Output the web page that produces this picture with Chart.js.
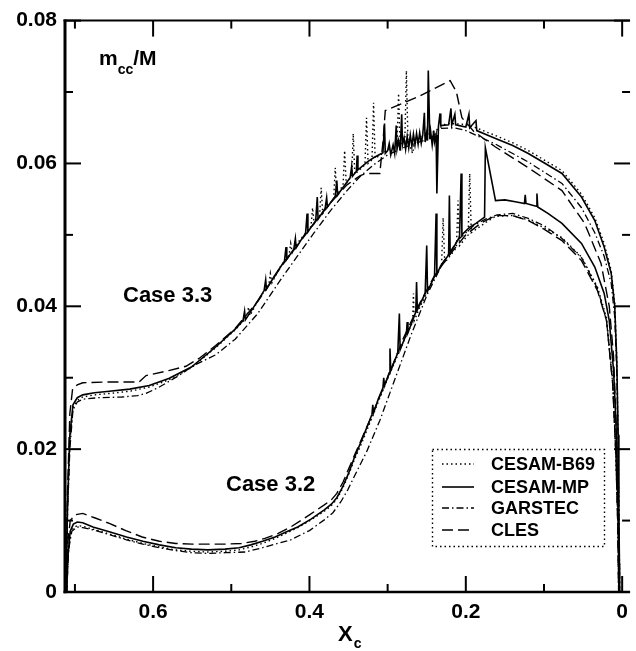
<!DOCTYPE html>
<html>
<head>
<meta charset="UTF-8">
<title>m_cc/M vs X_c</title>
<script src="https://cdn.jsdelivr.net/npm/chart.js"></script>
<style>
  body { margin: 0; background: #fff; }
  canvas { display: block; }
</style>
</head>
<body>
<canvas id="c" width="636" height="651"></canvas>
<script>
// tick values
const xMajor = [0.6, 0.4, 0.2, 0];
const xMinor = [0.7, 0.5, 0.3, 0.1];
const yMajor = [0, 0.02, 0.04, 0.06, 0.08];
const yMinor = [0.01, 0.03, 0.05, 0.07];

const models = ['CESAM-B69', 'CESAM-MP', 'GARSTEC', 'CLES'];

// Case 3.3  [X_c, m_cc/M]
const b69_33 = [[.7115,0],[.7095,.011],[.7065,.021],[.7025,.0258],[.697,.0268],[.690,.0273],[.675,.0276],[.656,.0278],[.630,.0281],[.605,.0287],[.580,.0297],[.551,.0314],[.520,.0342],[.495,.0367],[.480,.0385],[.478,.0399],[.476,.0387],[.466,.0408],[.452,.0430],[.450,.0446],[.448,.0433],[.437,.0456],[.426,.0472],[.424,.0488],[.422,.0475],[.415,.0489],[.398,.0512],[.396,.0538],[.394,.0516],[.387,.0527],[.385,.0566],[.383,.0530],[.369,.0551],[.367,.0594],[.365,.0555],[.357,.0570],[.355,.0618],[.353,.0572],[.346,.0582],[.344,.0642],[.342,.0585],[.329,.0598],[.327,.0664],[.325,.0600],[.320,.0605],[.318,.0685],[.316,.0607],[.300,.0619],[.288,.0626],[.286,.0698],[.284,.0627],[.278,.0631],[.276,.0730],[.274,.0632],[.268,.0614],[.265,.0635],[.250,.0640],[.240,.0645],[.225,.0656],[.205,.0655],[.187,.0650],[.162,.0639],[.140,.0629],[.120,.0618],[.100,.0605],[.077,.0590],[.052,.0557],[.035,.0524],[.023,.0488],[.014,.0450],[.0095,.0405],[.0068,.0325],[.0052,.0225],[.0042,.0125],[.0035,.0045],[.0032,0]];
const mp_33 = [[.7115,0],[.7095,.012],[.7065,.022],[.7025,.0262],[.697,.0272],[.690,.0276],[.675,.0279],[.656,.0281],[.630,.0284],[.605,.0289],[.580,.0299],[.551,.0315],[.520,.0343],[.495,.0368],[.485,.0380],[.483,.0393],[.482,.0381],[.466,.0408],[.458,.0422],[.456,.0437],[.455,.0424],[.445,.0442],[.437,.0455],[.432,.0463],[.430,.0483],[.429,.0466],[.420,.0480],[.418,.0495],[.417,.0482],[.410,.0494],[.405,.0502],[.403,.0530],[.402,.0504],[.392,.0520],[.390,.0553],[.389,.0522],[.380,.0537],[.378,.0552],[.377,.0539],[.367,.0554],[.365,.0576],[.364,.0556],[.352,.0574],[.348,.0580],[.346,.0596],[.345,.0582],[.340,.0589],[.339,.0611],[.338,.0591],[.325,.0603],[.318,.0608],[.306,.0615],[.304,.0656],[.303,.0614],[.300,.0618],[.298,.0628],[.296,.0612],[.293,.0626],[.291,.0614],[.289,.0653],[.288,.0620],[.286,.0632],[.284,.0618],[.282,.0669],[.281,.0626],[.279,.0636],[.277,.0620],[.275,.0638],[.273,.0622],[.271,.0640],[.269,.0624],[.267,.0641],[.265,.0626],[.263,.0642],[.261,.0627],[.259,.0643],[.257,.0628],[.255,.0641],[.253,.0671],[.252,.0630],[.250,.0644],[.249,.0632],[.248,.0730],[.246,.0634],[.245,.0645],[.243,.0626],[.241,.0646],[.240,.0630],[.238,.0640],[.237,.0558],[.235,.0652],[.233,.0670],[.232,.0653],[.222,.0654],[.219,.0677],[.218,.0654],[.214,.0669],[.213,.0654],[.200,.0651],[.196,.0669],[.195,.0650],[.187,.0660],[.186,.0646],[.175,.0641],[.162,.0635],[.140,.0625],[.120,.0614],[.100,.0601],[.077,.0586],[.052,.0553],[.035,.0520],[.023,.0483],[.014,.0446],[.0095,.0400],[.0068,.0320],[.0052,.0220],[.0042,.0120],[.0035,.0040],[.0032,0]];
const gar_33 = [[.7115,0],[.7095,.011],[.7065,.020],[.7025,.0255],[.697,.0266],[.690,.0270],[.670,.0272],[.640,.0273],[.620,.0275],[.609,.0278],[.592,.0287],[.567,.0303],[.550,.0316],[.520,.0332],[.495,.0354],[.466,.0390],[.437,.0437],[.415,.0471],[.394,.0503],[.373,.0534],[.352,.0562],[.335,.0582],[.318,.0598],[.300,.0612],[.280,.0622],[.260,.0630],[.245,.0635],[.232,.0649],[.215,.0650],[.200,.0646],[.162,.0627],[.120,.0602],[.077,.0572],[.052,.0538],[.035,.0503],[.023,.0470],[.014,.0432],[.0095,.0385],[.0068,.0305],[.0052,.0210],[.0042,.0110],[.0035,.0035],[.0032,0]];
const cles33 = [[.7115,0],[.7095,.014],[.7065,.025],[.7030,.0284],[.697,.0290],[.690,.0293],[.660,.0294],[.618,.0294],[.609,.0303],[.580,.0310],[.558,.0316],[.540,.0328],[.520,.0345],[.495,.0369],[.466,.0407],[.437,.0454],[.415,.0486],[.394,.0516],[.373,.0545],[.352,.0570],[.335,.0583],[.327,.0586],[.310,.0586],[.306,.0630],[.303,.0674],[.260,.0694],[.220,.0716],[.212,.0700],[.205,.0664],[.190,.0645],[.162,.0623],[.120,.0594],[.077,.0562],[.048,.0516],[.027,.0460],[.0165,.0400],[.0110,.0330],[.0075,.0230],[.0055,.0120],[.0042,.0040],[.0035,0]];

// Case 3.2
const b69_32 = [[.7105,0],[.709,.0045],[.706,.0080],[.702,.0090],[.697,.0093],[.690,.0092],[.677,.0088],[.655,.0081],[.634,.0074],[.613,.0068],[.592,.0063],[.571,.0059],[.551,.0057],[.530,.0056],[.508,.0057],[.490,.0059],[.475,.0063],[.460,.0068],[.444,.0075],[.430,.0082],[.415,.0090],[.398,.0101],[.381,.0113],[.372,.0121],[.365,.0130],[.358,.0144],[.350,.0164],[.343,.0184],[.333,.0209],[.323,.0236],[.312,.0266],[.301,.0296],[.290,.0324],[.280,.0350],[.268,.0378],[.267,.0418],[.266,.0380],[.259,.0398],[.242,.0437],[.231,.0458],[.229,.0524],[.227,.0461],[.212,.0482],[.210,.0548],[.208,.0485],[.197,.0500],[.195,.0586],[.193,.0503],[.175,.0517],[.162,.0526],[.140,.0527],[.120,.0521],[.100,.0510],[.077,.0496],[.052,.0469],[.0316,.0427],[.020,.0384],[.012,.0295],[.008,.0195],[.0055,.0095],[.0045,0]];
const mp_32 = [[.7105,0],[.709,.005],[.706,.0085],[.702,.0095],[.697,.0098],[.690,.0097],[.677,.0091],[.655,.0084],[.634,.0077],[.613,.0071],[.592,.0066],[.571,.0062],[.551,.0060],[.530,.0059],[.508,.0060],[.490,.0062],[.475,.0066],[.460,.0071],[.444,.0077],[.430,.0084],[.415,.0091],[.398,.0102],[.381,.0115],[.372,.0123],[.365,.0132],[.358,.0146],[.350,.0166],[.343,.0187],[.333,.0213],[.323,.0240],[.320,.0249],[.319,.0262],[.318,.0251],[.312,.0270],[.306,.0286],[.305,.0300],[.304,.0289],[.301,.0298],[.298,.0307],[.297,.0341],[.296,.0310],[.287,.0335],[.285,.0390],[.284,.0339],[.276,.0361],[.275,.0378],[.274,.0363],[.264,.0392],[.263,.0434],[.262,.0395],[.252,.0418],[.250,.0485],[.249,.0421],[.240,.0442],[.238,.0530],[.237,.0445],[.232,.0457],[.222,.0472],[.221,.0555],[.220,.0474],[.208,.0497],[.206,.0586],[.205,.0500],[.195,.0511],[.187,.0516],[.176,.0525],[.175,.0622],[.162,.0548],[.150,.0549],[.135,.0546],[.125,.0544],[.124,.0556],[.123,.0544],[.110,.0540],[.109,.0558],[.108,.0539],[.095,.0530],[.077,.0516],[.052,.0488],[.035,.0455],[.023,.0418],[.0165,.0380],[.011,.031],[.008,.024],[.006,.016],[.0048,.008],[.0042,0]];
const gar_32 = [[.7105,0],[.708,.006],[.704,.0085],[.697,.0091],[.690,.0090],[.677,.0087],[.655,.0080],[.634,.0073],[.613,.0067],[.592,.0062],[.571,.0058],[.551,.0055],[.529,.0054],[.508,.0055],[.482,.0056],[.460,.0062],[.444,.0067],[.424,.0073],[.400,.0086],[.381,.0101],[.370,.0111],[.360,.0126],[.351,.0143],[.343,.0161],[.327,.0196],[.310,.0240],[.290,.0300],[.270,.0360],[.250,.0415],[.230,.0460],[.210,.0493],[.190,.0513],[.175,.0522],[.160,.0528],[.140,.0530],[.120,.0523],[.100,.0513],[.077,.0495],[.052,.0468],[.0316,.0425],[.020,.0380],[.012,.0290],[.008,.0190],[.0055,.0090],[.0045,0]];
const cles32 = [[.7105,0],[.709,.007],[.706,.0100],[.700,.0108],[.690,.0110],[.675,.0104],[.656,.0096],[.635,.0086],[.614,.0077],[.592,.0071],[.571,.0068],[.550,.0067],[.529,.0067],[.508,.0067],[.487,.0068],[.470,.0071],[.457,.0075],[.440,.0082],[.424,.0091],[.400,.0108],[.381,.0122],[.372,.0129],[.365,.0138],[.357,.0154],[.350,.0172],[.343,.0190],[.323,.0240],[.300,.0300],[.280,.0355],[.260,.0402],[.240,.0443],[.220,.0473],[.200,.0500],[.180,.0517],[.162,.0527],[.140,.0527],[.120,.0520],[.100,.0508],[.077,.0492],[.052,.0464],[.0316,.0422],[.020,.0380],[.012,.0290],[.008,.0190],[.0055,.0090],[.0045,0]];

const FONT = "'Liberation Sans', Arial, Helvetica, sans-serif";
const styles = [
  { dash: [1.5, 3], width: 1.4 },        // CESAM-B69 dotted
  { dash: [], width: 1.6 },              // CESAM-MP solid
  { dash: [7, 3, 1.5, 3], width: 1.3 },  // GARSTEC dash-dot
  { dash: [11, 5], width: 1.4 }          // CLES dashed
];

function toXY(pairs) { return pairs.map(p => ({ x: p[0], y: p[1] })); }

function makeSet(pairs, i, label) {
  return {
    label: label,
    data: toXY(pairs),
    showLine: true,
    borderColor: '#000',
    borderWidth: styles[i].width,
    borderDash: styles[i].dash,
    borderCapStyle: 'butt',
    pointRadius: 0,
    tension: 0,
    fill: false
  };
}

const datasets = [
  makeSet(b69_33, 0, models[0]), makeSet(mp_33, 1, models[1]),
  makeSet(gar_33, 2, models[2]), makeSet(cles33, 3, models[3]),
  makeSet(b69_32, 0, models[0] + ' (3.2)'), makeSet(mp_32, 1, models[1] + ' (3.2)'),
  makeSet(gar_32, 2, models[2] + ' (3.2)'), makeSet(cles32, 3, models[3] + ' (3.2)')
];

// frame and inward ticks
const framePlugin = {
  id: 'frame',
  afterDatasetsDraw(chart) {
    const { ctx, chartArea: a, scales } = chart;
    const sx = scales.x, sy = scales.y;
    ctx.save();
    ctx.strokeStyle = '#000';
    ctx.setLineDash([]);
    function seg(x1, y1, x2, y2) { ctx.beginPath(); ctx.moveTo(x1, y1); ctx.lineTo(x2, y2); ctx.stroke(); }
    ctx.lineWidth = 3;   seg(a.left, a.top - 1, a.left, a.bottom + 1.2);
    ctx.lineWidth = 2.5; seg(a.left - 1.5, a.bottom, a.right, a.bottom);
    ctx.lineWidth = 2;   seg(a.left - 1.5, a.top, a.right, a.top);
    ctx.lineWidth = 2;
    xMajor.forEach(v => { const p = sx.getPixelForValue(v); seg(p, a.bottom, p, a.bottom - 16); seg(p, a.top, p, a.top + 16); });
    xMinor.forEach(v => { const p = sx.getPixelForValue(v); seg(p, a.bottom, p, a.bottom - 8); seg(p, a.top, p, a.top + 8); });
    yMajor.forEach(v => { const p = sy.getPixelForValue(v); seg(a.left, p, a.left + 16, p); seg(a.right, p, a.right - 16, p); });
    yMinor.forEach(v => { const p = sy.getPixelForValue(v); seg(a.left, p, a.left + 8, p); seg(a.right, p, a.right - 8, p); });
    ctx.restore();
  }
};

// legend box, axis title and annotations
const textPlugin = {
  id: 'texts',
  afterDraw(chart) {
    const ctx = chart.ctx;
    ctx.save();
    ctx.fillStyle = '#000';
    ctx.strokeStyle = '#000';
    // legend frame
    ctx.lineWidth = 1.4;
    ctx.setLineDash([1.5, 3]);
    ctx.strokeRect(432.5, 449.5, 172, 97);
    const rows = [464, 487, 508, 530];
    models.forEach((m, i) => {
      ctx.lineWidth = styles[i].width;
      ctx.setLineDash(styles[i].dash);
      ctx.beginPath(); ctx.moveTo(442, rows[i]); ctx.lineTo(474, rows[i]); ctx.stroke();
      ctx.font = 'bold 18px ' + FONT;
      ctx.textBaseline = 'middle';
      ctx.textAlign = 'left';
      ctx.fillText(m, 491, rows[i] + 1);
    });
    ctx.setLineDash([]);
    ctx.textBaseline = 'alphabetic';
    // y label m_cc/M
    ctx.font = 'bold 21px ' + FONT;
    ctx.fillText('m', 99, 65);
    let w = ctx.measureText('m').width;
    ctx.font = 'bold 14px ' + FONT;
    ctx.fillText('cc', 99 + w, 74);
    const w2 = ctx.measureText('cc').width;
    ctx.font = 'bold 21px ' + FONT;
    ctx.fillText('/M', 99 + w + w2, 65);
    // case labels
    ctx.font = 'bold 22px ' + FONT;
    ctx.fillText('Case 3.3', 123, 302);
    ctx.fillText('Case 3.2', 226, 491);
    // x axis title X_c
    ctx.font = 'bold 22px ' + FONT;
    ctx.fillText('X', 338, 641);
    w = ctx.measureText('X').width;
    ctx.font = 'bold 14px ' + FONT;
    ctx.fillText('c', 338 + w + 1, 648);
    ctx.restore();
  }
};

new Chart(document.getElementById('c'), {
  type: 'scatter',
  data: { datasets: datasets },
  options: {
    responsive: false,
    animation: false,
    layout: { padding: { top: 20, left: 0, right: 0, bottom: 0 } },
    plugins: { legend: { display: false }, tooltip: { enabled: false } },
    scales: {
      x: {
        type: 'linear',
        reverse: true,
        min: -0.0101,
        max: 0.7127,
        afterFit: s => { s.height = 59; },
        afterBuildTicks: s => { s.ticks = xMajor.map(v => ({ value: v })); },
        grid: { display: false, drawTicks: false },
        border: { display: false },
        ticks: {
          autoSkip: false, maxRotation: 0, padding: 8, color: '#000',
          font: { family: FONT, size: 21, weight: 'bold' },
          callback: v => v === 0 ? '0' : v.toFixed(1)
        }
      },
      y: {
        type: 'linear',
        min: 0,
        max: 0.08,
        afterFit: s => { s.width = 65; },
        afterBuildTicks: s => { s.ticks = yMajor.map(v => ({ value: v })); },
        grid: { display: false, drawTicks: false },
        border: { display: false },
        ticks: {
          padding: 8, color: '#000',
          font: { family: FONT, size: 21, weight: 'bold' },
          callback: v => v === 0 ? '0' : v.toFixed(2)
        }
      }
    }
  },
  plugins: [framePlugin, textPlugin]
});
</script>
</body>
</html>
